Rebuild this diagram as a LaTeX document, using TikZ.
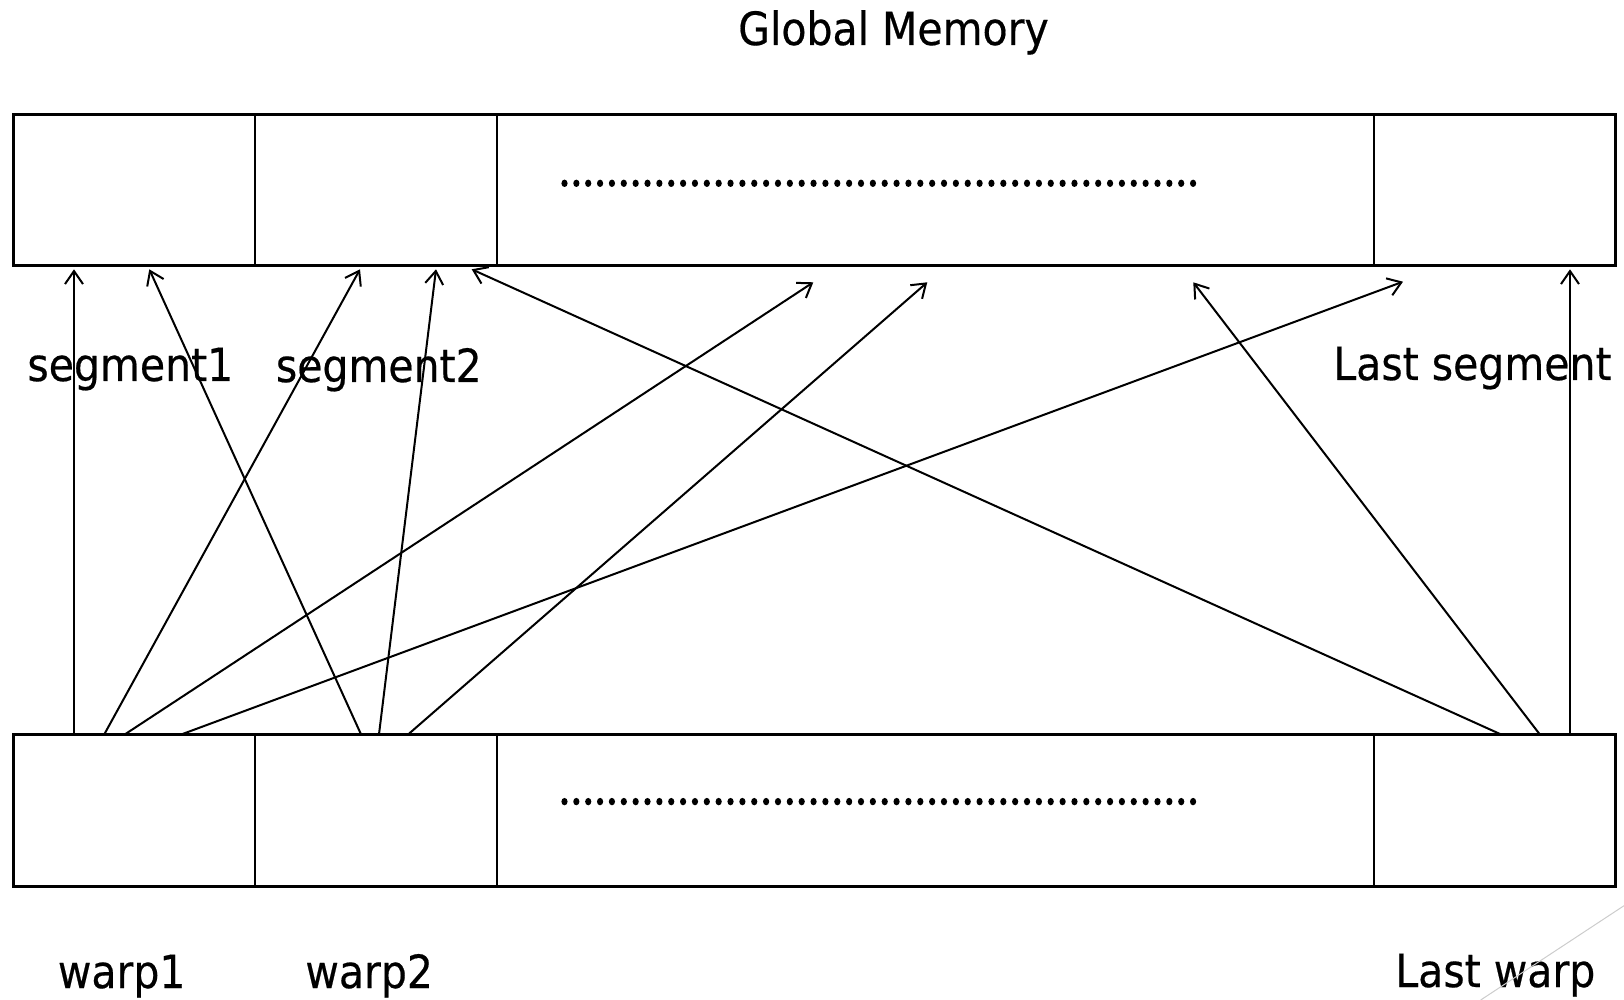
\documentclass[tikz,border=0pt]{standalone}
\usepackage{fontspec}
\setmainfont{DejaVu Sans}[FakeStretch=0.895,FakeBold=0.4]
\usetikzlibrary{arrows.meta}

\begin{document}
\begin{tikzpicture}[x=0.5pt,y=-0.5pt,
  frame/.style={line width=1.5pt},
  divider/.style={line width=1pt},
  access/.style={line width=1pt,-{Straight Barb[length=6.5pt,width=9pt,line width=1pt]}},
  lbl/.style={inner sep=0pt,font=\fontsize{22.9}{27}\selectfont},
  dotmark/.style={fill=black},
  deco/.style={draw=black!20,line width=0.5pt}
]
\useasboundingbox (0,0) rectangle (1624,1000);

% title
\node[lbl,anchor=base] (title) at (893.5,45) {Global Memory};

% global memory row: segments
\draw[divider] (255.3,115) -- (255.3,266) (497.3,115) -- (497.3,266) (1374,115) -- (1374,266);
\draw[frame] (13.3,115) rectangle (1615.7,266);
\foreach \i in {0,...,53}
  \fill[dotmark] (564.5+\i*11.86,183.3) ellipse [x radius=1.55pt, y radius=1.85pt];

% warp row
\draw[divider] (255.3,734.3) -- (255.3,886.6) (497.3,734.3) -- (497.3,886.6) (1374,734.3) -- (1374,886.6);
\draw[frame] (13.3,734.3) rectangle (1615.7,886.6);
\foreach \i in {0,...,53}
  \fill[dotmark] (564.5+\i*11.86,801.6) ellipse [x radius=1.55pt, y radius=1.85pt];

% labels
\node[lbl,anchor=base west] (seg1) at (27,381) {segment1};
\node[lbl,anchor=base west] (seg2) at (275.5,382) {segment2};
\node[lbl,anchor=base west] (segL) at (1333,380) {Last segment};
\node[lbl,anchor=base west] (w1) at (57.5,988) {warp1};
\node[lbl,anchor=base west] (w2) at (305,988) {warp2};
\node[lbl,anchor=base west] (wL) at (1395,987) {Last warp};

% access start points on the warp row
\coordinate (a1) at (74,734.3);
\coordinate (a2) at (104.3,734.3);
\coordinate (a3) at (125,734.3);
\coordinate (a4) at (181.7,734.3);
\coordinate (b1) at (361,734.3);
\coordinate (b2) at (379,734.3);
\coordinate (b3) at (408.3,734.3);
\coordinate (c1) at (1500.7,734.3);
\coordinate (c2) at (1539.7,734.3);
\coordinate (c3) at (1570,734.3);

% access targets below the global memory row
\coordinate (t1) at (74,269.3);
\coordinate (t2) at (360,269.3);
\coordinate (t3) at (813.3,282.3);
\coordinate (t4) at (1403,281.7);
\coordinate (u1) at (149.3,269.3);
\coordinate (u2) at (436,269.3);
\coordinate (u3) at (927.3,282.3);
\coordinate (v1) at (471.7,269.3);
\coordinate (v2) at (1193.3,282.3);
\coordinate (v3) at (1570,269.3);

\draw[access] (a1) -- (t1);
\draw[access] (a2) -- (t2);
\draw[access] (a3) -- (t3);
\draw[access] (a4) -- (t4);
\draw[access] (b1) -- (u1);
\draw[access] (b2) -- (u2);
\draw[access] (b3) -- (u3);
\draw[access] (c1) -- (v1);
\draw[access] (c2) -- (v2);
\draw[access] (c3) -- (v3);

% corner ornament
\coordinate (o1) at (1624,905.7);
\coordinate (o2) at (1480.7,1000);
\draw[deco] (o1) -- (o2);
\end{tikzpicture}
\end{document}
